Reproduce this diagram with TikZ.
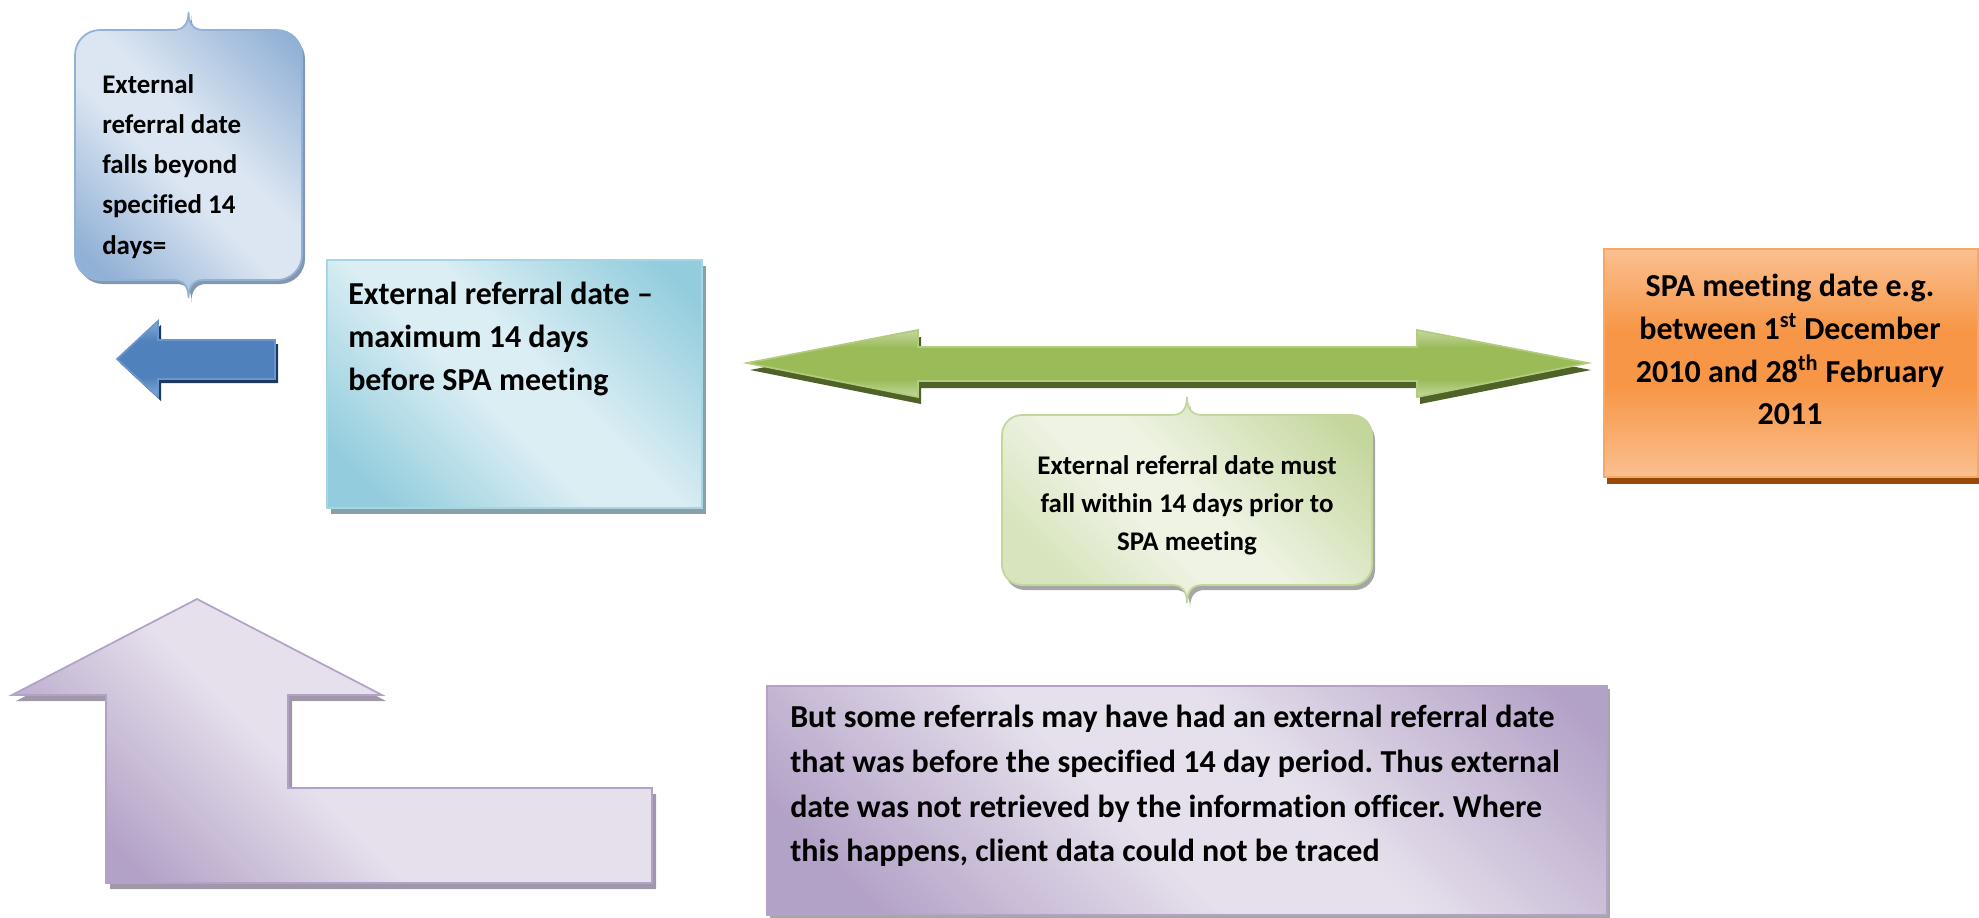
\documentclass[tikz,border=0pt]{standalone}
\usepackage{fontspec}
\setmainfont{Carlito}[Ligatures={NoCommon,NoContextual}]
\frenchspacing

% palette
\definecolor{calloutBlueD}{HTML}{92B1D6}
\definecolor{calloutBlueL}{HTML}{DCE6F2}
\definecolor{calloutBlueShadow}{HTML}{8497B0}
\definecolor{arrowBlue}{HTML}{4F81BD}
\definecolor{arrowBlueL}{HTML}{84A9D8}
\definecolor{arrowBlueEdge}{HTML}{6C96CB}
\definecolor{arrowBlueShadow}{HTML}{1F3A60}
\definecolor{cyanD}{HTML}{93CDDD}
\definecolor{cyanL}{HTML}{DBEEF4}
\definecolor{cyanEdge}{HTML}{A5D6E3}
\definecolor{cyanShadow}{HTML}{8AA0A9}
\definecolor{greenA}{HTML}{9BBB59}
\definecolor{greenAL}{HTML}{C5D89F}
\definecolor{greenAEdge}{HTML}{B2CC7E}
\definecolor{greenAShadow}{HTML}{4F6228}
\definecolor{greenCL}{HTML}{EEF3E3}
\definecolor{greenCM}{HTML}{D7E4BD}
\definecolor{greenCD}{HTML}{C3D69B}
\definecolor{greyShadow}{HTML}{A6A6A6}
\definecolor{orangeD}{HTML}{F79646}
\definecolor{orangeL}{HTML}{FAC090}
\definecolor{orangeEdge}{HTML}{F9A864}
\definecolor{orangeShadow}{HTML}{984807}
\definecolor{purpleD}{HTML}{B3A2C7}
\definecolor{purpleL}{HTML}{E6E0EC}
\definecolor{purpleShadow}{HTML}{A097A9}

% diagonal bands: dark corners, light middle
\pgfdeclarehorizontalshading{blueband}{100bp}{color(0bp)=(calloutBlueD); color(22bp)=(calloutBlueD); color(45bp)=(calloutBlueL); color(55bp)=(calloutBlueL); color(80bp)=(calloutBlueD); color(100bp)=(calloutBlueD)}
\pgfdeclarehorizontalshading{cyanband}{100bp}{color(0bp)=(cyanD); color(22bp)=(cyanD); color(45bp)=(cyanL); color(55bp)=(cyanL); color(80bp)=(cyanD); color(100bp)=(cyanD)}
\pgfdeclarehorizontalshading{purpleband}{100bp}{color(0bp)=(purpleD); color(22bp)=(purpleD); color(45bp)=(purpleL); color(58bp)=(purpleL); color(82bp)=(purpleD); color(100bp)=(purpleD)}
\pgfdeclarehorizontalshading{lband}{100bp}{color(0bp)=(purpleD); color(25bp)=(purpleD); color(45bp)=(purpleL); color(100bp)=(purpleL)}
\pgfdeclarehorizontalshading{greenband}{100bp}{color(0bp)=(greenCM); color(25bp)=(greenCM); color(42bp)=(greenCL); color(52bp)=(greenCL); color(80bp)=(greenCD); color(100bp)=(greenCD)}
% vertical bands for the block arrows and the date box
\pgfdeclareverticalshading{greenarrowband}{100bp}{color(0bp)=(greenAL); color(25bp)=(greenAL); color(38bp)=(greenA); color(62bp)=(greenA); color(75bp)=(greenAL); color(100bp)=(greenAL)}
\pgfdeclareverticalshading{bluearrowband}{100bp}{color(0bp)=(arrowBlueL); color(25bp)=(arrowBlueL); color(38bp)=(arrowBlue); color(62bp)=(arrowBlue); color(75bp)=(arrowBlueL); color(100bp)=(arrowBlueL)}
\pgfdeclareverticalshading{orangeband}{100bp}{color(0bp)=(orangeL); color(25bp)=(orangeL); color(45bp)=(orangeD); color(57bp)=(orangeD); color(75bp)=(orangeL); color(100bp)=(orangeL)}

% rounded box with a brace point on the top and bottom edge:
% {x1}{y1}{x2}{y2}{corner radius}{point height}
\newcommand\bracecalloutpath[6]{%
 (#1,#2+#5) .. controls (#1,#2+0.45*#5) and (#1+0.45*#5,#2) .. (#1+#5,#2)
 -- ({(#1+#3)/2-15},#2) .. controls ({(#1+#3)/2-5},#2) and ({(#1+#3)/2},#2-6) .. ({(#1+#3)/2},#2-#6)
 .. controls ({(#1+#3)/2},#2-6) and ({(#1+#3)/2+5},#2) .. ({(#1+#3)/2+15},#2)
 -- (#3-#5,#2) .. controls (#3-0.45*#5,#2) and (#3,#2+0.45*#5) .. (#3,#2+#5)
 -- (#3,#4-#5) .. controls (#3,#4-0.45*#5) and (#3-0.45*#5,#4) .. (#3-#5,#4)
 -- ({(#1+#3)/2+15},#4) .. controls ({(#1+#3)/2+5},#4) and ({(#1+#3)/2},#4+6) .. ({(#1+#3)/2},#4+#6)
 .. controls ({(#1+#3)/2},#4+6) and ({(#1+#3)/2-5},#4) .. ({(#1+#3)/2-15},#4)
 -- (#1+#5,#4) .. controls (#1+0.45*#5,#4) and (#1,#4-0.45*#5) .. (#1,#4-#5) -- cycle}

\begin{document}
\begin{tikzpicture}[x=0.75pt,y=-0.75pt,
  dropshadow/.style n args={3}{preaction={fill=#1,transform canvas={shift={(#2,#3)}}}},
  smalltext/.style={inner sep=0pt,font=\fontsize{20.2}{28.5}\selectfont\bfseries},
  largetext/.style={inner sep=0pt,font=\fontsize{24}{32.3}\selectfont\bfseries},
  edge/.style={draw=#1,line width=1.3pt,line join=miter}]
\useasboundingbox (0,0) rectangle (1979,917);

% blue brace callout, top left
\path[dropshadow={calloutBlueShadow}{3}{4},edge=calloutBlueD,shading=blueband,shading angle=45]
  \bracecalloutpath{75}{30}{302}{280}{25}{18};
\node[smalltext,anchor=north west,align=left,font=\fontsize{20.2}{30.2}\selectfont\bfseries] (beyond) at (102,74)
  {External\\referral date\\falls beyond\\specified 14\\days=};

% blue block arrow pointing left
\path[dropshadow={arrowBlueShadow}{3}{4},edge=arrowBlueEdge,shading=bluearrowband]
  (117,359) -- (158,321) -- (158,340) -- (275,340) -- (275,379) -- (158,379) -- (158,397) -- cycle;

% cyan box
\path[dropshadow={cyanShadow}{4}{6},edge=cyanEdge,shading=cyanband,shading angle=45]
  (327,260) rectangle (702,508);
\node[largetext,anchor=north west,align=left] (maxdays) at (348,282)
  {External referral date –\\maximum 14 days\\before SPA meeting};

% green double-headed block arrow
\path[dropshadow={greenAShadow}{3}{7},edge=greenAEdge,shading=greenarrowband]
  (747,363) -- (918,330) -- (918,347) -- (1417,347) -- (1417,330) -- (1588,363)
  -- (1417,397) -- (1417,381) -- (918,381) -- (918,397) -- cycle;

% green brace callout under the arrow
\path[dropshadow={greyShadow}{3}{5},edge=greenCD,shading=greenband,shading angle=45]
  \bracecalloutpath{1002}{415}{1372}{585}{20}{18};
\node[smalltext,anchor=north,align=center] (within) at (1187,455)
  {External referral date must\\fall within 14 days prior to\\SPA meeting};

% orange box, right edge
\path[dropshadow={orangeShadow}{3}{7},edge=orangeEdge,shading=orangeband]
  (1604,249) rectangle (1978,477);
\node[largetext,anchor=north,align=center,font=\fontsize{24}{32}\selectfont\bfseries] (spadate) at (1790,274)
  {SPA meeting date e.g.\\between 1\textsuperscript{st} December\\2010 and 28\textsuperscript{th} February\\2011};

% lavender bent arrow, bottom left
\path[dropshadow={purpleShadow}{4}{6},edge=purpleD,shading=lband,shading angle=45]
  (197,599) -- (382,695) -- (288,695) -- (288,788) -- (652,788) -- (652,883)
  -- (106,883) -- (106,695) -- (12,695) -- cycle;

% lavender note box
\path[dropshadow={greyShadow}{3}{3},edge=purpleD,shading=purpleband,shading angle=45]
  (767,686) rectangle (1607,915);
\node[largetext,anchor=north west,align=left,font=\fontsize{24}{33.5}\selectfont\bfseries] (traced) at (790,705)
  {But some referrals may have had an external referral date\\that was before the specified 14 day period. Thus external\\date was not retrieved by the information officer. Where\\this happens, client data could not be traced};
\end{tikzpicture}
\end{document}
